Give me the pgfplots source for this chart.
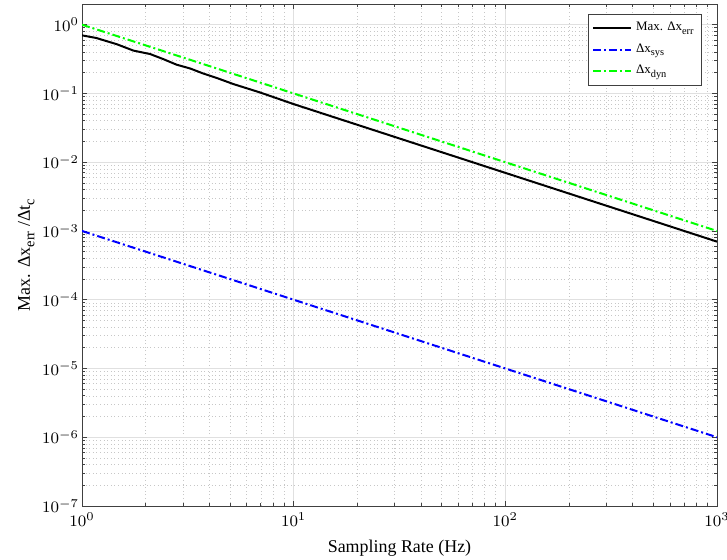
\documentclass[border=0pt]{standalone}
\usepackage{pgfplots}
\pgfplotsset{compat=1.18}
\usepackage{fontspec}
\setmainfont{Liberation Serif}

\definecolor{mgreen}{rgb}{0,1,0}
\definecolor{mblue}{rgb}{0,0,1}
% MATLAB-style subscript: lower and a bit larger than \textsubscript
\newcommand\sbs[1]{\raisebox{-0.55ex}{\scalebox{0.8}{#1}}}

\begin{document}
\begin{tikzpicture}
\begin{axis}[
    scale only axis,
    width=317.5bp,
    height=251bp,
    xmode=log,
    ymode=log,
    xmin=1, xmax=1000,
    ymin=1e-7, ymax=2,
    xtick={1,10,100,1000},
    ytick={1e-7,1e-6,1e-5,1e-4,1e-3,1e-2,1e-1,1},
    tick align=inside,
    major tick length=2.5bp,
    minor tick length=1.5bp,
    axis line style={black!75},
    every tick/.style={black!75},
    grid=both,
    major grid style={black!12, line width=0.4pt},
    minor grid style={black!22, line width=0.35pt, dash pattern=on 0.4bp off 1.4bp},
    tick label style={font=\fontsize{8}{9}\selectfont},
    yticklabel style={xshift=2bp},
    label style={font=\fontsize{9}{10}\selectfont},
    xlabel={Sampling Rate (Hz)},
    ylabel={Max. Δx\sbs{err} /Δt\sbs{c}},
    ylabel style={yshift=-3bp},
    legend style={at={(1,1)}, anchor=north east, xshift=-7.5bp, yshift=-5bp,
        font=\fontsize{6.5}{8}\selectfont, draw=black!75, inner sep=2bp,
        row sep=1pt, cells={anchor=west}},
    legend cell align=left,
    legend image code/.code={\draw[#1] (0bp,0bp) -- (19bp,0bp);},
]
\addplot[black, line width=1bp] coordinates {
    (1,0.70) (1.17,0.64) (1.46,0.52) (1.75,0.42) (2.1,0.374) (2.42,0.316)
    (2.8,0.262) (3.24,0.231) (3.74,0.195) (4.33,0.168) (5.19,0.137)
    (6.93,0.1035) (10,0.07) (100,0.007) (1000,0.0007)
};
\addlegendentry{Max. Δx\sbs{err}}
\addplot[mblue, line width=1bp, dash pattern=on 4bp off 1.5bp on 1bp off 1.5bp] coordinates {
    (1,1e-3) (1000,1e-6)
};
\addlegendentry{Δx\sbs{sys}}
\addplot[mgreen, line width=1bp, dash pattern=on 4bp off 1.5bp on 1bp off 1.5bp] coordinates {
    (1,1) (1000,1e-3)
};
\addlegendentry{Δx\sbs{dyn}}
\end{axis}
\pgfresetboundingbox
\path ([shift={(-41bp,-27bp)}]current axis.south west) rectangle ([shift={(5bp,2bp)}]current axis.north east);
\end{tikzpicture}
\end{document}
